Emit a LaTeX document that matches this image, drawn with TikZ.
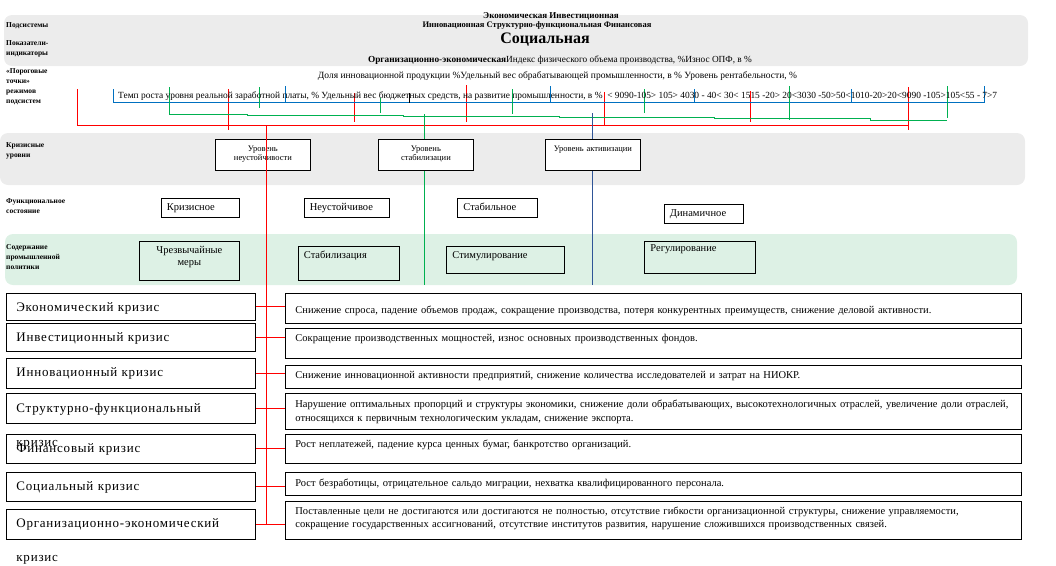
\documentclass[tikz,border=0pt]{standalone}
\usepackage{fontspec}
\setmainfont{Liberation Serif}
\newfontfamily\crfam[LetterSpace=6]{Liberation Serif}
\newcommand\crfont{\crfam\fontsize{13}{34}\selectfont}
\usetikzlibrary{positioning}

\definecolor{bandgray}{RGB}{236,236,236}
\definecolor{bandgreen}{RGB}{221,241,229}
\definecolor{lnred}{RGB}{255,0,0}
\definecolor{lngreen}{RGB}{0,176,80}
\definecolor{lnblue}{RGB}{0,112,192}
\definecolor{lnnavy}{RGB}{47,85,151}

\tikzset{
  sidelabel/.style={anchor=west, align=left, inner sep=0pt, font=\fontsize{7.5}{10}\selectfont\bfseries},
  hdr/.style={inner sep=0pt, font=\fontsize{8.5}{10}\selectfont\bfseries},
  indline/.style={inner sep=0pt, font=\fontsize{9.5}{12}\selectfont},
  lvlbox/.style={draw, line width=0.8pt, fill=white, anchor=north west, inner sep=0pt, text width=95pt, align=center, font=\fontsize{8.5}{9}\selectfont},
  statebox/.style={draw, line width=0.8pt, anchor=north west, inner xsep=6pt, inner ysep=0pt, align=left, font=\fontsize{10.5}{12}\selectfont},
  crbox/.style={draw, line width=0.8pt, anchor=north west, inner xsep=10pt, inner ysep=0pt, text width=229pt, align=left, font=\crfont},
  descbox/.style={draw, line width=0.8pt, anchor=north west, inner xsep=10pt, inner ysep=0pt, text width=716pt, align=left, font=\fontsize{10.5}{13.3}\selectfont},
  band/.style={rounded corners=8pt},
  tie/.style={lnred, line width=0.9pt}
}

\begin{document}
\begin{tikzpicture}[x=1pt,y=-1pt]
    \useasboundingbox (0,0) rectangle (1056,565);

    %% bands
    \fill[bandgray, band] (4,15) rectangle (1028,66);
    \fill[bandgray, band] (0,133) rectangle (1025,185);
    \fill[bandgreen, band] (5,234) rectangle (1017,285);

    %% threshold combs
    \draw[tie] (77,125.5) -- (908,125.5);
    \foreach \x/\a/\b in {77/89/125.5, 228/89/130, 354/93/122, 466/85/122, 604/92/125.5, 750/91/122, 908/87/130}{
    \draw[tie] (\x,\a) -- (\x,\b);
    }
    \draw[lnblue, line width=0.9pt] (113,102.5) -- (984,102.5);
    \foreach \x/\a in {113/89, 285/86, 550/86, 694/89, 851/89, 984/86}{
    \draw[lnblue, line width=0.9pt] (\x,\a) -- (\x,102.5);
    }
    \draw[line width=0.6pt] (409,93) -- (409,103);
    \draw[lngreen, line width=0.9pt] (169,114) -- (247,114) -- (247,115.3) -- (403,115.3) -- (403,116.6) -- (559,116.6) -- (559,117.3) -- (714,117.3) -- (714,118.7) -- (870,118.7) -- (870,120) -- (947,120);
    \foreach \x/\a/\b in {169/87/114, 259/87/108, 380/98/113, 512/89/114, 644/89/113, 789/86/120, 947/86/118}{
    \draw[lngreen, line width=0.9pt] (\x,\a) -- (\x,\b);
    }

    %% main verticals
    \coordinate (rtop) at (266.5,125.5);
    \coordinate (gtop) at (424.5,114);
    \coordinate (btop) at (592.5,113);
    \coordinate (gend) at (424.5,285);
    \coordinate (bend) at (592.5,285);
    \draw[lngreen, line width=0.8pt] (gtop) -- (gend);
    \draw[lnnavy, line width=0.8pt] (btop) -- (bend);

    %% header texts
    \node[hdr, font=\fontsize{9}{10}\selectfont\bfseries] (sub1) at (551,16) {Экономическая Инвестиционная};
    \node[hdr] (sub2) at (537,25) {Инновационная Структурно-функциональная Финансовая};
    \node[hdr, font=\fontsize{16}{18}\selectfont\bfseries] (sub3) at (545,40) {Социальная};
    \node[indline, font=\fontsize{9.3}{11}\selectfont] (ind1) at (560,60) {\textbf{Организационно-экономическая}Индекс физического объема производства, \%Износ ОПФ, в \%};
    \node[indline] (ind2) at (557.5,76) {Доля инновационной продукции \%Удельный вес обрабатывающей промышленности, в \% Уровень рентабельности, \%};
    \node[indline, font=\fontsize{9.4}{12}\selectfont, anchor=west] (ind3) at (118,96) {Темп роста уровня реальной заработной платы, \% Удельный вес бюджетных средств, на развитие промышленности, в \% ~< 9090-105> 105> 4030 - 40< 30< 1515 -20> 20<3030 -50>50<1010-20>20<9090 -105>105<55 - 7>7};

    %% row labels
    \node[sidelabel] (lsub) at (6,26) {Подсистемы};
    \node[sidelabel] (lind) at (6,49) {Показатели-\\индикаторы};
    \node[sidelabel] (lthr) at (6,86.5) {«Пороговые\\точки»\\режимов\\подсистем};
    \node[sidelabel] (lcr) at (6,150.5) {Кризисные\\уровни};
    \node[sidelabel] (lfs) at (6,206) {Функциональное\\состояние};
    \node[sidelabel] (lpol) at (6,257) {Содержание\\промышленной\\политики};

    %% crisis levels
    \node[lvlbox, text height=12pt, text depth=19pt] (unst) at (215,139) {Уровень\\неустойчивости};
    \node[lvlbox, text height=12pt, text depth=19pt] (stab) at (378,139) {Уровень\\стабилизации};
    \node[lvlbox, text height=12pt, text depth=19pt] (activ) at (545,139) {Уровень активизации};

    %% functional states
    \node[statebox, text width=66.5pt, text height=12pt, text depth=7pt] (crisis) at (160.5,198) {Кризисное};
    \node[statebox, text width=73.5pt, text height=12pt, text depth=7pt] (unstable) at (303.5,198) {Неустойчивое};
    \node[statebox, text width=67.6pt, text height=12pt, text depth=7pt] (stable) at (457,198) {Стабильное};
    \node[statebox, text width=67.2pt, text height=12pt, text depth=7pt] (dynamic) at (663.5,204) {Динамичное};

    %% policy
    \node[statebox, align=center, text width=88pt, text height=12.5pt, text depth=26.5pt] (emerg) at (139,241) {Чрезвычайные\\меры};
    \node[statebox, text width=89.5pt, text height=12.5pt, text depth=21.5pt] (stabil) at (297.5,246) {Стабилизация};
    \node[statebox, text width=106pt, text height=12.5pt, text depth=14.5pt] (stimul) at (446,246) {Стимулирование};
    \node[statebox, text width=99pt, text height=10.5pt, text depth=21.5pt] (regul) at (644,241) {Регулирование};

    %% crisis types
    \node[crbox, text height=18pt, text depth=9pt] (ec) at (6,293) {Экономический кризис};
    \node[crbox, text height=18pt, text depth=10pt] (inv) at (6,323) {Инвестиционный кризис};
    \node[crbox, text height=18pt, text depth=12pt] (inn) at (6,358) {Инновационный кризис};
    \node[crbox, text height=19pt, text depth=11pt] (str) at (6,393) {Структурно-функциональный\\кризис};
    \node[crbox, text height=18pt, text depth=11pt] (fin) at (6,434) {Финансовый кризис};
    \node[crbox, text height=18pt, text depth=11pt] (soc) at (6,472) {Социальный кризис};
    \node[crbox, text height=18pt, text depth=12pt] (org) at (6,509) {Организационно-экономический\\кризис};

    %% descriptions
    \node[descbox, text height=20.5pt, text depth=9.5pt] (dec) at (285,293) {Снижение спроса, падение объемов продаж, сокращение производства, потеря конкурентных преимуществ, снижение деловой активности.};
    \node[descbox, text height=13.5pt, text depth=16.5pt] (dinv) at (285,328) {Сокращение производственных мощностей, износ основных производственных фондов.};
    \node[descbox, text height=13.5pt, text depth=9.5pt] (dinn) at (285,365) {Снижение инновационной активности предприятий, снижение количества исследователей и затрат на НИОКР.};
    \node[descbox, text height=14.5pt, text depth=21.5pt] (dstr) at (285,393) {Нарушение оптимальных пропорций и структуры экономики, снижение доли обрабатывающих, высокотехнологичных отраслей, увеличение доли отраслей,\\относящихся к первичным технологическим укладам, снижение экспорта.};
    \node[descbox, text height=13.5pt, text depth=15.5pt] (dfin) at (285,434) {Рост неплатежей, падение курса ценных бумаг, банкротство организаций.};
    \node[descbox, text height=14.5pt, text depth=8.5pt] (dsoc) at (285,472) {Рост безработицы, отрицательное сальдо миграции, нехватка квалифицированного персонала.};
    \node[descbox, text height=13pt, text depth=25pt] (dorg) at (285,501) {Поставленные цели не достигаются или достигаются не полностью, отсутствие гибкости организационной структуры, снижение управляемости,\\сокращение государственных ассигнований, отсутствие институтов развития, нарушение сложившихся производственных связей.};

    %% red trunk and ties
    \draw[tie] (rtop) -- (rtop |- org.east);
    \foreach \i in {ec,inv,inn,str,fin,soc,org}{
    \draw[tie] (\i.east) -- (\i.east -| d\i.west);
    }
\end{tikzpicture}
\end{document}
